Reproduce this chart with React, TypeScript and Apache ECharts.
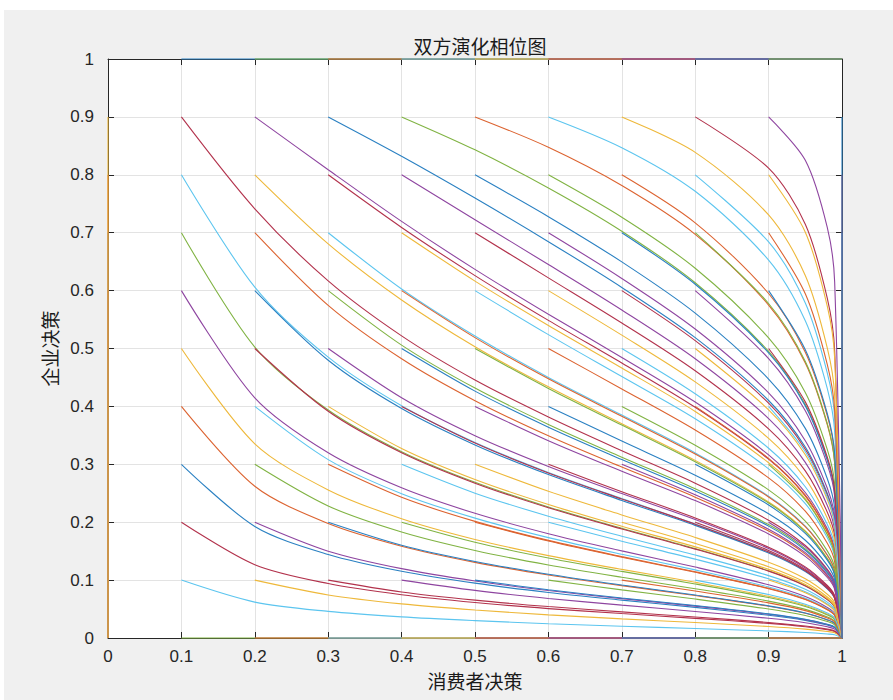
import React, { useEffect, useRef } from "react";
import * as echarts from "echarts";

// Start values on each axis (0, 0.1, ..., 1) used for the initial-point grid.
const startValues = [0, 0.1, 0.2, 0.3, 0.4, 0.5, 0.6, 0.7, 0.8, 0.9, 1];

// Common x sampling of the trajectories (consumer decision).
const xGrid = [0.1, 0.2, 0.3, 0.4, 0.5, 0.6, 0.7, 0.8, 0.9, 0.95, 0.98, 0.99];

// Every interior trajectory ends at the stable point (1, 0).
const sink = [1, 0];

// Enterprise decision along each trajectory, one block per starting x.
// Rows start at y0 = 0.1 ... 0.9; values follow xGrid from the starting x.
const fromX01 = [
  [0.1, 0.062, 0.046, 0.0365, 0.03, 0.0247, 0.0204, 0.0164, 0.0122, 0.0095, 0.0069, 0.0055],
  [0.2, 0.1265, 0.094, 0.0748, 0.0613, 0.0508, 0.0422, 0.0339, 0.0252, 0.0195, 0.0143, 0.0114],
  [0.3, 0.1927, 0.1443, 0.1152, 0.0947, 0.0787, 0.0654, 0.0529, 0.0393, 0.0305, 0.0223, 0.0178],
  [0.4, 0.2621, 0.1978, 0.1585, 0.1306, 0.1089, 0.0904, 0.0734, 0.0549, 0.0427, 0.0311, 0.0248],
  [0.5, 0.3353, 0.2558, 0.206, 0.1702, 0.1423, 0.1185, 0.0962, 0.072, 0.0561, 0.0412, 0.0328],
  [0.6, 0.4148, 0.3199, 0.2594, 0.2153, 0.1802, 0.1505, 0.1225, 0.0919, 0.0716, 0.0528, 0.0422],
  [0.7, 0.5025, 0.3937, 0.3218, 0.2689, 0.2263, 0.1894, 0.1544, 0.1162, 0.0906, 0.0669, 0.0536],
  [0.8, 0.6059, 0.485, 0.401, 0.3376, 0.2859, 0.2407, 0.197, 0.1488, 0.1165, 0.0861, 0.0689],
  [0.9, 0.7413, 0.6168, 0.5218, 0.4456, 0.3817, 0.3235, 0.2673, 0.2034, 0.1598, 0.1186, 0.0952],
];
const fromX02 = [
  [0.1, 0.0744, 0.059, 0.0484, 0.04, 0.0331, 0.0267, 0.0198, 0.0154, 0.0113, 0.009],
  [0.2, 0.15, 0.1198, 0.0985, 0.082, 0.068, 0.0551, 0.041, 0.0317, 0.0232, 0.0185],
  [0.3, 0.228, 0.1831, 0.1511, 0.1261, 0.1049, 0.0851, 0.0637, 0.0494, 0.0362, 0.0289],
  [0.4, 0.3081, 0.2493, 0.207, 0.1734, 0.1446, 0.1176, 0.0882, 0.0687, 0.0505, 0.0403],
  [0.5, 0.3916, 0.32, 0.2674, 0.2249, 0.1883, 0.1535, 0.1155, 0.09, 0.0665, 0.0532],
  [0.6, 0.4797, 0.3964, 0.3335, 0.2822, 0.2376, 0.1945, 0.1468, 0.1149, 0.0849, 0.068],
  [0.7, 0.5745, 0.4823, 0.4098, 0.3491, 0.2953, 0.2433, 0.1847, 0.1449, 0.1074, 0.0861],
  [0.8, 0.6808, 0.5838, 0.5031, 0.4338, 0.3702, 0.3068, 0.235, 0.1851, 0.1376, 0.1106],
  [0.9, 0.8088, 0.7196, 0.6367, 0.5592, 0.4846, 0.4075, 0.3162, 0.2513, 0.1885, 0.1519],
];
const fromX03 = [
  [0.1, 0.0795, 0.0654, 0.0543, 0.0451, 0.0362, 0.0269, 0.0208, 0.0153, 0.0122],
  [0.2, 0.1603, 0.1322, 0.1101, 0.0915, 0.0742, 0.0555, 0.0432, 0.0315, 0.0251],
  [0.3, 0.243, 0.2014, 0.1686, 0.1406, 0.1143, 0.0858, 0.0668, 0.0491, 0.0391],
  [0.4, 0.3273, 0.2737, 0.2306, 0.193, 0.1574, 0.1185, 0.0925, 0.0682, 0.0546],
  [0.5, 0.415, 0.3495, 0.2963, 0.2494, 0.2046, 0.1546, 0.121, 0.0894, 0.0717],
  [0.6, 0.5059, 0.4316, 0.3689, 0.3123, 0.2576, 0.1959, 0.1538, 0.1141, 0.0915],
  [0.7, 0.6028, 0.5215, 0.45, 0.385, 0.3197, 0.245, 0.1934, 0.1439, 0.1157],
  [0.8, 0.7091, 0.6259, 0.5486, 0.4749, 0.3985, 0.3089, 0.2455, 0.1839, 0.1482],
  [0.9, 0.8321, 0.7599, 0.6845, 0.6055, 0.5188, 0.4102, 0.3298, 0.2496, 0.2025],
];
const fromX04 = [
  [0.1, 0.0822, 0.0683, 0.0567, 0.0459, 0.034, 0.0264, 0.0193, 0.0154],
  [0.2, 0.1654, 0.1382, 0.115, 0.0934, 0.0698, 0.0544, 0.0399, 0.0318],
  [0.3, 0.2501, 0.2104, 0.1758, 0.1433, 0.1077, 0.0841, 0.0619, 0.0494],
  [0.4, 0.3368, 0.2851, 0.2401, 0.1965, 0.1484, 0.1162, 0.0859, 0.0687],
  [0.5, 0.4264, 0.3641, 0.3082, 0.254, 0.1932, 0.1516, 0.1125, 0.0901],
  [0.6, 0.5188, 0.4476, 0.3828, 0.3178, 0.2436, 0.1922, 0.143, 0.115],
  [0.7, 0.6164, 0.5396, 0.4664, 0.3913, 0.3026, 0.2406, 0.1798, 0.145],
  [0.8, 0.7223, 0.645, 0.5664, 0.4822, 0.3789, 0.3033, 0.229, 0.1853],
  [0.9, 0.8431, 0.7773, 0.7026, 0.6136, 0.4949, 0.4031, 0.3086, 0.2515],
];
const fromX05 = [
  [0.1, 0.0833, 0.069, 0.056, 0.0417, 0.0323, 0.0236, 0.0188],
  [0.2, 0.1675, 0.1396, 0.1136, 0.0852, 0.0664, 0.0488, 0.0388],
  [0.3, 0.2533, 0.2126, 0.1736, 0.1308, 0.1023, 0.0756, 0.0603],
  [0.4, 0.3408, 0.288, 0.2373, 0.1797, 0.141, 0.1045, 0.0838],
  [0.5, 0.431, 0.3677, 0.3045, 0.2333, 0.1837, 0.1366, 0.1097],
  [0.6, 0.524, 0.4516, 0.3787, 0.2922, 0.2321, 0.1733, 0.1396],
  [0.7, 0.622, 0.544, 0.4615, 0.3613, 0.2887, 0.2173, 0.1757],
  [0.8, 0.7277, 0.6496, 0.5611, 0.4472, 0.362, 0.2751, 0.2236],
  [0.9, 0.8476, 0.7815, 0.6972, 0.575, 0.475, 0.3681, 0.3016],
];
const fromX06 = [
  [0.1, 0.0831, 0.0673, 0.0501, 0.0389, 0.0285, 0.0227],
  [0.2, 0.1672, 0.1362, 0.1023, 0.0797, 0.0587, 0.0471],
  [0.3, 0.2527, 0.2074, 0.1568, 0.1228, 0.0907, 0.0727],
  [0.4, 0.3401, 0.2812, 0.2146, 0.1688, 0.1254, 0.1006],
  [0.5, 0.4302, 0.3592, 0.2766, 0.219, 0.1635, 0.1316],
  [0.6, 0.5231, 0.4423, 0.3448, 0.2753, 0.207, 0.1671],
  [0.7, 0.621, 0.5336, 0.4233, 0.3408, 0.2586, 0.2098],
  [0.8, 0.7267, 0.6386, 0.5183, 0.424, 0.3253, 0.2659],
  [0.9, 0.8469, 0.7715, 0.6527, 0.5479, 0.4307, 0.3559],
];
const fromX07 = [
  [0.1, 0.0811, 0.0606, 0.0473, 0.0345, 0.0275],
  [0.2, 0.1634, 0.1231, 0.0961, 0.0708, 0.0568],
  [0.3, 0.2472, 0.188, 0.1474, 0.1092, 0.0877],
  [0.4, 0.333, 0.2558, 0.202, 0.1505, 0.1211],
  [0.5, 0.4218, 0.3277, 0.2612, 0.1959, 0.158],
  [0.6, 0.5136, 0.4056, 0.3261, 0.2468, 0.1999],
  [0.7, 0.611, 0.4925, 0.4009, 0.3068, 0.25],
  [0.8, 0.717, 0.595, 0.4934, 0.3837, 0.3153],
  [0.9, 0.8387, 0.7307, 0.6261, 0.5005, 0.4181],
];
const fromX08 = [
  [0.1, 0.075, 0.0583, 0.043, 0.0341],
  [0.2, 0.1512, 0.1184, 0.0875, 0.07],
  [0.3, 0.2297, 0.1808, 0.1345, 0.108],
  [0.4, 0.3103, 0.2466, 0.1847, 0.1488],
  [0.5, 0.3941, 0.3165, 0.2393, 0.1938],
  [0.6, 0.4826, 0.3924, 0.2995, 0.2442],
  [0.7, 0.5777, 0.4776, 0.3702, 0.3035],
  [0.8, 0.684, 0.5787, 0.4575, 0.38],
  [0.9, 0.8115, 0.7146, 0.5864, 0.4961],
];
const fromX09 = [
  [0.1, 0.078, 0.0575, 0.0461],
  [0.2, 0.1573, 0.1167, 0.0936],
  [0.3, 0.2386, 0.1783, 0.1437],
  [0.4, 0.3217, 0.2433, 0.1971],
  [0.5, 0.4078, 0.3124, 0.2548],
  [0.6, 0.4979, 0.3876, 0.3187],
  [0.7, 0.5944, 0.472, 0.3923],
  [0.8, 0.7009, 0.5726, 0.4834],
  [0.9, 0.8252, 0.7086, 0.615],
];
const interiorBlocks = [fromX01, fromX02, fromX03, fromX04, fromX05, fromX06, fromX07, fromX08, fromX09];

// Default line colour order, cycled once per plotted trajectory.
const palette = ["#2a80c2", "#dc6330", "#eeb83a", "#8e45a0", "#80b343", "#5cc5ef", "#b2324c"];

const titleText = "双方演化相位图";
const xName = "消费者决策";
const yName = "企业决策";

function trajectory(i: number, j: number): number[][] {
  const last = startValues.length - 1;
  const x0 = startValues[i];
  const y0 = startValues[j];
  const isCornerX = i === 0 || i === last;
  const isCornerY = j === 0 || j === last;
  if (isCornerX && isCornerY) return [[x0, y0]];
  // edges of the square: the flow stays on the boundary
  if (i === 0 || i === last) return [[x0, y0], [x0, 0]];
  if (j === 0 || j === last) return [[x0, y0], [1, y0]];
  const ys = interiorBlocks[i - 1][j - 1];
  const pts = ys.map((y, n) => [xGrid[n + i - 1], y]);
  pts.push(sink);
  return pts;
}

const tickFont = "'Liberation Sans', Arial, Helvetica, sans-serif";
const cjkFont = "'Noto Sans CJK SC', 'Noto Sans', sans-serif";
const axisColor = "#262626";

function baseAxis(position: string, showLabel: boolean) {
  return {
    type: "value",
    min: 0,
    max: 1,
    interval: 0.1,
    position,
    axisLine: { show: true, onZero: false, lineStyle: { color: axisColor, width: 1 } },
    axisTick: { show: true, inside: true, length: 6, lineStyle: { color: axisColor, width: 1 } },
    axisLabel: {
      show: showLabel,
      color: axisColor,
      fontSize: 17,
      fontFamily: tickFont,
    },
    splitLine: { show: showLabel, lineStyle: { color: "#e3e3e3", width: 1 } },
  };
}

export default function App() {
  const ref = useRef<HTMLDivElement>(null);

  useEffect(() => {
    if (!ref.current) return;
    const chart = echarts.init(ref.current, undefined, { renderer: "svg" });

    const series: any[] = [];
    for (let i = 0; i < startValues.length; i++) {
      for (let j = 0; j < startValues.length; j++) {
        const k = i * startValues.length + j;
        series.push({
          type: "line",
          data: trajectory(i, j),
          showSymbol: false,
          symbol: "none",
          clip: false,
          silent: true,
          smooth: 0.3,
          lineStyle: { color: palette[k % palette.length], width: 1.1 },
          emphasis: { disabled: true },
        });
      }
    }

    const xBottom: any = {
      ...baseAxis("bottom", true),
      name: xName,
      nameLocation: "middle",
      nameGap: 33,
      nameTextStyle: { fontSize: 19, color: "#1a1a1a", fontFamily: cjkFont },
    };
    xBottom.axisLabel.margin = 10;
    const yLeft: any = {
      ...baseAxis("left", true),
      name: yName,
      nameLocation: "middle",
      nameGap: 22,
      nameTextStyle: { fontSize: 19, color: "#1a1a1a", fontFamily: cjkFont },
    };
    yLeft.axisLabel.margin = 14;

    chart.setOption({
      animation: false,
      backgroundColor: "#ffffff",
      title: {
        text: titleText,
        left: 475,
        top: 31,
        textAlign: "center",
        textStyle: { fontSize: 19, fontWeight: "normal", color: "#1a1a1a", fontFamily: cjkFont },
      },
      graphic: [
        {
          type: "rect",
          z: -100,
          silent: true,
          shape: { x: 4, y: 10, width: 889, height: 690 },
          style: { fill: "#f0f0f0" },
        },
      ],
      grid: {
        left: 108,
        top: 59,
        width: 734,
        height: 579,
        show: true,
        backgroundColor: "#ffffff",
        borderWidth: 0,
        containLabel: false,
      },
      xAxis: [xBottom, baseAxis("top", false)],
      yAxis: [yLeft, baseAxis("right", false)],
      series,
    });

    return () => chart.dispose();
  }, []);

  return (
    <div
      ref={ref}
      style={{ position: "fixed", left: 0, top: 0, width: 893, height: 700 }}
    />
  );
}
